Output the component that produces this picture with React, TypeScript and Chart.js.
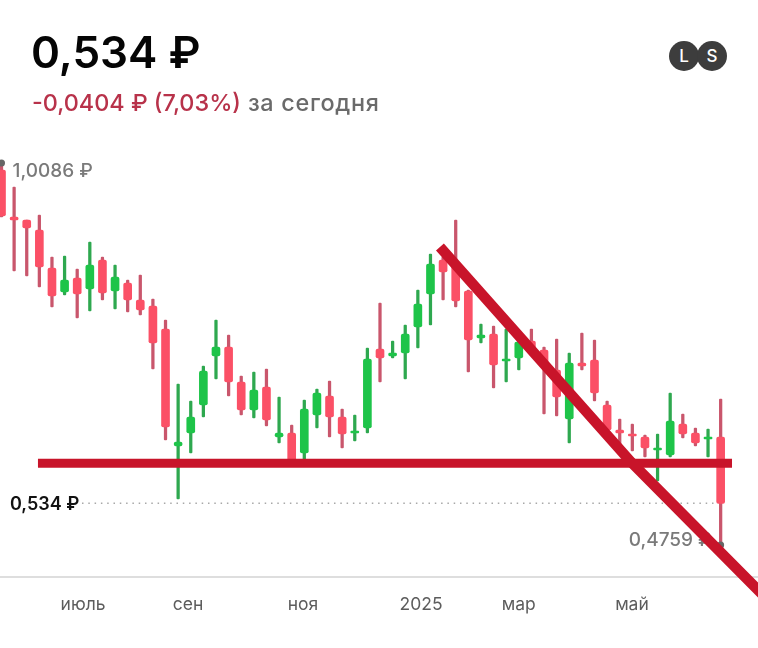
import { useEffect, useRef } from "react";
import Chart from "chart.js/auto";

const FONT = "Inter, 'Noto Sans', sans-serif";
const RED = "#fb5066";
const RED_WICK = "#c9566c";
const GREEN = "#1ec449";
const GREEN_WICK = "#2ea84f";
const TREND = "#c8142a";

const openValues = [
  0.9988, 0.9333, 0.9291, 0.9152, 0.8622, 0.8287, 0.8482, 0.8329, 0.8733, 0.8301,
  0.8413, 0.8175, 0.8092, 0.7771, 0.614, 0.6321, 0.6711, 0.7395, 0.752, 0.7032,
  0.6642, 0.6962, 0.6265, 0.6321, 0.6042, 0.6572, 0.6837, 0.6544, 0.6321, 0.6391,
  0.7492, 0.7395, 0.7436, 0.7799, 0.8259, 0.8733, 0.8705, 0.8301, 0.7646, 0.7701,
  0.7325, 0.7367, 0.7604, 0.7478, 0.7199, 0.6516, 0.7297, 0.7339, 0.6711, 0.6363,
  0.6307, 0.6265, 0.6084, 0.6014, 0.6446, 0.6321, 0.6237, 0.6265,
];
const closeValues = [
  0.9347, 0.9291, 0.918, 0.8636, 0.8231, 0.8454, 0.8259, 0.8664, 0.8273, 0.8496,
  0.8175, 0.8036, 0.7576, 0.6404, 0.6195, 0.6544, 0.7185, 0.752, 0.7032, 0.6642,
  0.692, 0.6502, 0.6321, 0.5902, 0.6655, 0.6879, 0.6544, 0.6307, 0.6349, 0.7353,
  0.7367, 0.7436, 0.7701, 0.812, 0.8678, 0.8566, 0.8162, 0.7618, 0.7687, 0.7269,
  0.7353, 0.759, 0.7506, 0.7241, 0.6823, 0.7297, 0.7255, 0.6879, 0.6363, 0.6321,
  0.6279, 0.6112, 0.6112, 0.6488, 0.6307, 0.6181, 0.6265, 0.534,
];
const highValues = [
  1.0086, 0.9751, 0.9291, 0.9361, 0.8775, 0.8789, 0.8608, 0.8984, 0.8775, 0.8664,
  0.8454, 0.8524, 0.8189, 0.7897, 0.7004, 0.6767, 0.7255, 0.7897, 0.7687, 0.7116,
  0.7171, 0.7213, 0.6823, 0.6432, 0.6781, 0.6934, 0.7046, 0.6655, 0.6572, 0.7506,
  0.8134, 0.7604, 0.7827, 0.8315, 0.8817, 0.8775, 0.9291, 0.8315, 0.7841, 0.7813,
  0.7771, 0.7715, 0.7771, 0.752, 0.7632, 0.7436, 0.7715, 0.7618, 0.6767, 0.6516,
  0.6446, 0.6293, 0.6307, 0.6879, 0.6586, 0.6391, 0.6377, 0.6795,
];
const lowValues = [
  0.9333, 0.858, 0.851, 0.8357, 0.8078, 0.8245, 0.7924, 0.8022, 0.8175, 0.805,
  0.8008, 0.7966, 0.7213, 0.6223, 0.54, 0.6042, 0.6544, 0.7074, 0.6837, 0.6572,
  0.653, 0.6418, 0.6181, 0.5902, 0.5944, 0.6391, 0.6265, 0.6112, 0.6209, 0.6321,
  0.7032, 0.7367, 0.7074, 0.7506, 0.7827, 0.8175, 0.8078, 0.7171, 0.7576, 0.6948,
  0.7032, 0.7199, 0.745, 0.6586, 0.6558, 0.6181, 0.7199, 0.6767, 0.6335, 0.6084,
  0.607, 0.5986, 0.5651, 0.5986, 0.6251, 0.614, 0.5986, 0.4759,
];

const xTickPositions = [6.46, 14.78, 23.9, 33.25, 41.0, 49.97];
const xTickLabels = ["июль", "сен", "ноя", "2025", "мар", "май"];

const HIGH_PRICE = 1.0086;
const LOW_PRICE = 0.4759;
const LAST_PRICE = 0.534;
const horizontalTrend = [
  { x: 2.89, y: 0.5898 },
  { x: 57.9, y: 0.5898 },
];
const fallingTrend = [
  { x: 34.75, y: 0.8915 },
  { x: 49.89, y: 0.5916 },
  { x: 61.3, y: 0.3894 },
];
const lastPriceLine = [
  { x: 6.38, y: LAST_PRICE },
  { x: 56.6, y: LAST_PRICE },
];

const indexes = openValues.map((_, i) => i);
const isUp = (i: number) => closeValues[i] > openValues[i];

const priceLabels = {
  id: "priceLabels",
  beforeDatasetsDraw(chart: any) {
    const { ctx, scales } = chart;
    const x = scales.x;
    const y = scales.y;
    ctx.save();
    ctx.textBaseline = "middle";
    ctx.font = `500 19px ${FONT}`;
    ctx.fillStyle = "#7a7a7a";
    ctx.textAlign = "left";
    ctx.fillText("1,0086 ₽", x.getPixelForValue(0) + 11, y.getPixelForValue(HIGH_PRICE) + 8);
    ctx.textAlign = "right";
    ctx.fillText("0,4759 ₽", x.getPixelForValue(57) - 9, y.getPixelForValue(LOW_PRICE) - 5);
    ctx.font = `600 18px ${FONT}`;
    ctx.fillStyle = "#111111";
    ctx.textAlign = "left";
    ctx.fillText("0,534 ₽", 10, y.getPixelForValue(LAST_PRICE) + 1);
    ctx.restore();
  },
};

function CandleChart() {
  const canvasRef = useRef<HTMLCanvasElement>(null);

  useEffect(() => {
    const el = canvasRef.current;
    if (!el) return;

    const chart = new Chart(el, {
      type: "bar",
      data: {
        datasets: [
          {
            type: "line",
            data: horizontalTrend,
            borderColor: TREND,
            borderWidth: 9,
            pointRadius: 0,
            borderCapStyle: "butt",
            order: 0,
          },
          {
            type: "line",
            data: fallingTrend,
            borderColor: TREND,
            borderWidth: 10.5,
            pointRadius: 0,
            borderCapStyle: "butt",
            clip: false,
            order: 0,
          },
          {
            type: "line",
            data: [
              { x: 0, y: HIGH_PRICE },
              { x: 57, y: LOW_PRICE },
            ],
            showLine: false,
            pointRadius: 3.5,
            pointBackgroundColor: "#666666",
            pointBorderWidth: 0,
            clip: false,
            order: 1,
          },
          {
            type: "bar",
            data: indexes.map((i) => ({ x: i, y: [openValues[i], closeValues[i]] })),
            backgroundColor: indexes.map((i) => (isUp(i) ? GREEN : RED)),
            barThickness: 8,
            borderRadius: 2,
            borderSkipped: false,
            order: 2,
          },
          {
            type: "bar",
            data: indexes.map((i) => ({ x: i, y: [lowValues[i], highValues[i]] })),
            backgroundColor: indexes.map((i) => (isUp(i) ? GREEN_WICK : RED_WICK)),
            barThickness: 2.6,
            borderRadius: 1,
            borderSkipped: false,
            order: 3,
          },
          {
            type: "line",
            data: lastPriceLine,
            borderColor: "#a8a8a8",
            borderWidth: 1.5,
            borderDash: [1.5, 4.8],
            pointRadius: 0,
            order: 4,
          },
        ],
      } as any,
      options: {
        responsive: false,
        animation: false,
        layout: { autoPadding: false, padding: { top: 140, left: 0, right: 0, bottom: 0 } },
        datasets: { bar: { grouped: false } },
        plugins: { legend: { display: false }, tooltip: { enabled: false } },
        scales: {
          x: {
            type: "linear",
            offset: false,
            min: -0.119,
            max: 59.96,
            grid: { display: false },
            border: { color: "#dedede", width: 2 },
            afterBuildTicks: (scale: any) => {
              scale.ticks = xTickPositions.map((value) => ({ value }));
            },
            afterFit: (scale: any) => {
              scale.height = 71;
            },
            ticks: {
              autoSkip: false,
              maxRotation: 0,
              padding: 9,
              color: "#5c5c5c",
              font: { family: FONT, size: 17.5 },
              callback: (_value: any, index: number) => xTickLabels[index],
            },
          },
          y: { display: false, min: 0.43127, max: 1.04067 },
        },
      } as any,
      plugins: [priceLabels],
    });

    return () => chart.destroy();
  }, []);

  return <canvas ref={canvasRef} width={758} height={648} style={{ display: "block" }} />;
}

const badge = (left: number) => ({
  position: "absolute" as const,
  left,
  top: 41,
  width: 30,
  height: 30,
  borderRadius: "50%",
  background: "#3d3d3d",
  color: "#fff",
  font: `500 17px/30px ${FONT}`,
  textAlign: "center" as const,
});

export default function App() {
  return (
    <div style={{ position: "absolute", left: 0, top: 0, width: 758, height: 648, background: "#fff", overflow: "hidden", fontFamily: FONT }}>
      <CandleChart />
      <div style={{ position: "absolute", left: 31, top: 23, fontSize: 44, fontWeight: 600, lineHeight: "58px", color: "#050505", whiteSpace: "nowrap" }}>
        0,534 ₽
      </div>
      <div style={{ position: "absolute", left: 32, top: 88, fontSize: 23.4, fontWeight: 500, lineHeight: "30px", whiteSpace: "nowrap" }}>
        <span style={{ color: "#b8324a" }}>-0,0404 ₽ (7,03%)</span>
        <span style={{ color: "#6a6a6a", letterSpacing: 0.7 }}> за сегодня</span>
      </div>
      <div style={badge(669)}>L</div>
      <div style={badge(697)}>S</div>
    </div>
  );
}
